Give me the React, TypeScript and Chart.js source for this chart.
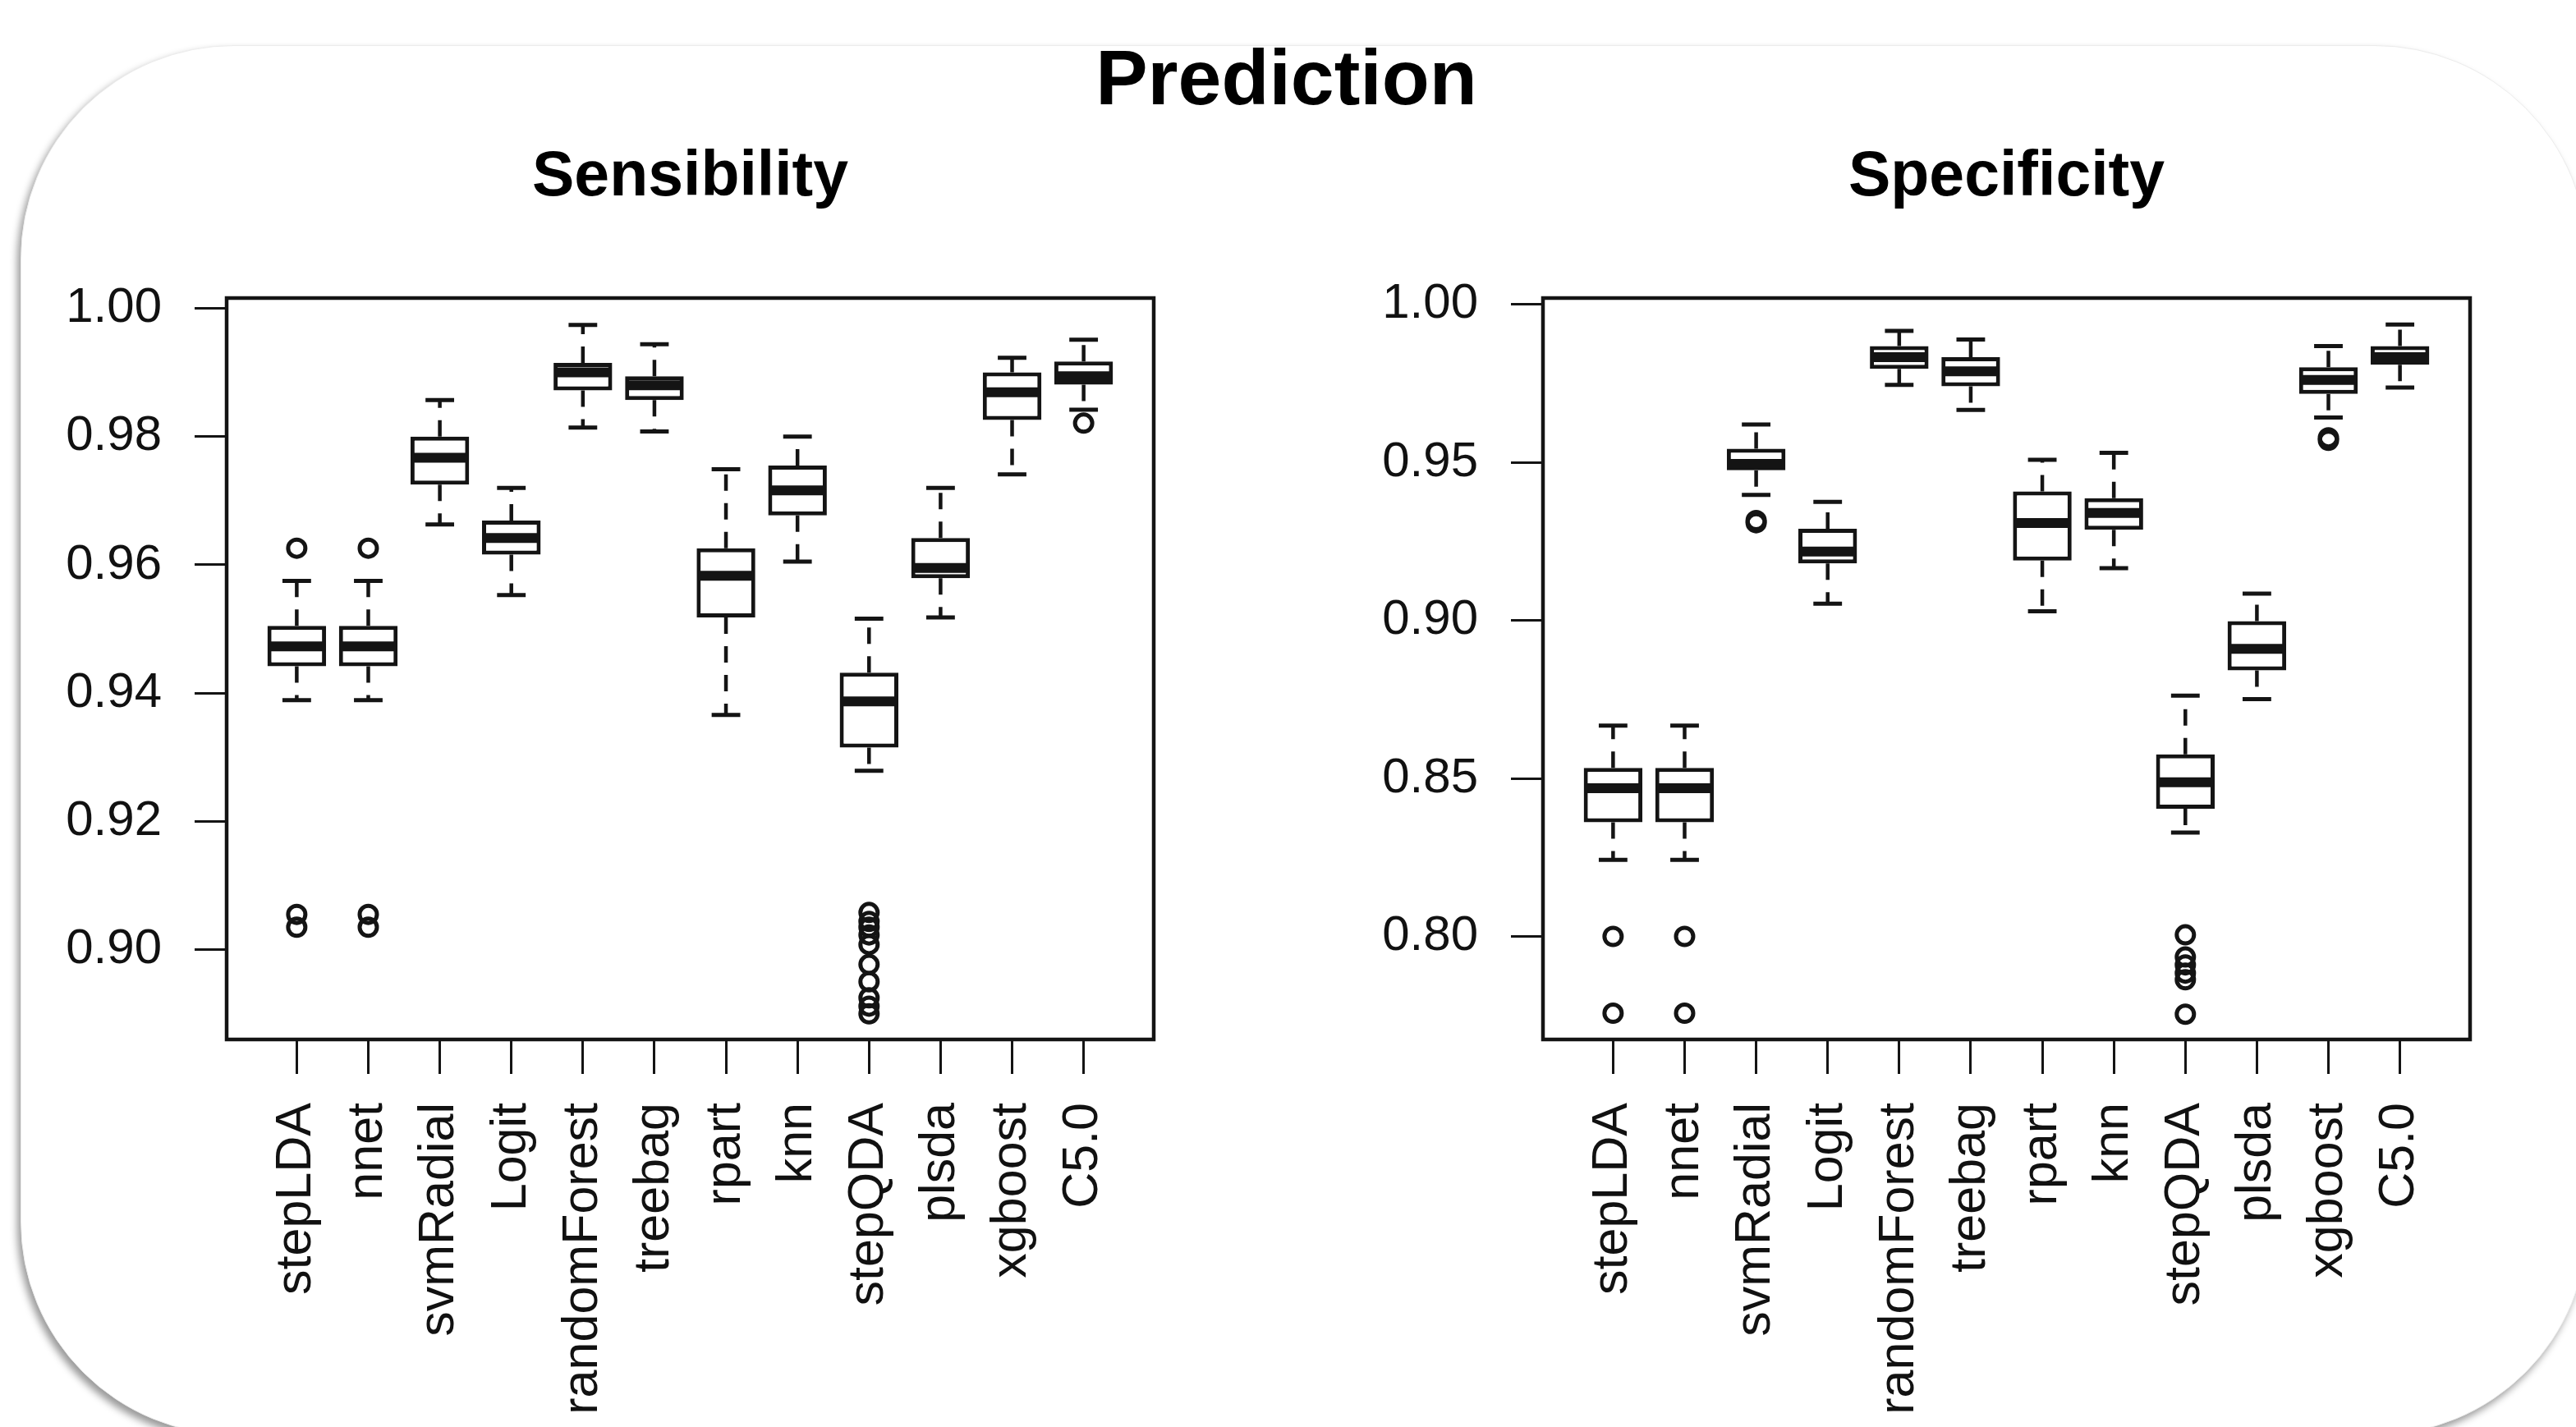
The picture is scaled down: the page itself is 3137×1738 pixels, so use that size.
import React, { useEffect, useRef } from "react";
import { Chart, registerables } from "chart.js";

Chart.register(...registerables);

// ---------------- data ----------------
const categories = [
  "stepLDA", "nnet", "svmRadial", "Logit", "randomForest", "treebag",
  "rpart", "knn", "stepQDA", "plsda", "xgboost", "C5.0",
];

// Sensibility panel
const sensLow = [0.9389, 0.9389, 0.9663, 0.9553, 0.9814, 0.9808, 0.9366, 0.9605, 0.9279, 0.9518, 0.9741, 0.9842];
const sensQ1 = [0.9442, 0.9442, 0.9725, 0.9616, 0.9872, 0.9857, 0.9518, 0.9677, 0.9315, 0.9579, 0.9826, 0.9881];
const sensMedian = [0.9473, 0.9473, 0.9767, 0.9642, 0.9900, 0.9880, 0.9583, 0.9716, 0.9387, 0.9595, 0.9869, 0.9894];
const sensQ3 = [0.9505, 0.9505, 0.9800, 0.9669, 0.9915, 0.9894, 0.9626, 0.9755, 0.9432, 0.9642, 0.9900, 0.9917];
const sensHigh = [0.9575, 0.9575, 0.9857, 0.9720, 0.9974, 0.9944, 0.9749, 0.9800, 0.9516, 0.9720, 0.9923, 0.9951];
const sensOutliers = [
  [0.9626, 0.9055, 0.9035],
  [0.9626, 0.9055, 0.9035],
  [], [], [], [], [], [],
  [0.9058, 0.9044, 0.9035, 0.9023, 0.9008, 0.8977, 0.895, 0.8925, 0.8912, 0.89],
  [], [],
  [0.9821],
];
const sensTicks = [0.9, 0.92, 0.94, 0.96, 0.98, 1.0];
const sensRange = [0.886, 1.0016];

// Specificity panel
const specLow = [0.8242, 0.8242, 0.9397, 0.9053, 0.9745, 0.9666, 0.9029, 0.9165, 0.8329, 0.8751, 0.9642, 0.9737];
const specQ1 = [0.8361, 0.8361, 0.9475, 0.918, 0.9796, 0.9741, 0.9189, 0.9287, 0.8404, 0.8842, 0.9717, 0.9809];
const specMedian = [0.8469, 0.8469, 0.9495, 0.9218, 0.9833, 0.9788, 0.9308, 0.934, 0.8488, 0.891, 0.9761, 0.9833];
const specQ3 = [0.8533, 0.8533, 0.9543, 0.929, 0.9868, 0.9833, 0.9408, 0.9387, 0.8576, 0.8998, 0.9801, 0.9868];
const specHigh = [0.8667, 0.8667, 0.962, 0.9375, 0.9916, 0.9889, 0.9508, 0.953, 0.8762, 0.9085, 0.9868, 0.9936];
const specOutliers = [
  [0.8, 0.7757],
  [0.8, 0.7757],
  [0.9309, 0.9316],
  [], [], [], [], [],
  [0.8005, 0.7935, 0.791, 0.7884, 0.7863, 0.7754],
  [],
  [0.957, 0.9578],
  [],
];
const specTicks = [0.8, 0.85, 0.9, 0.95, 1.0];
const specRange = [0.7674, 1.002];

const mainTitle = "Prediction";
const sensTitle = "Sensibility";
const specTitle = "Specificity";

// ---------------- styling ----------------
const FONT = '"Liberation Sans", Arial, Helvetica, sans-serif';
const INK = "#141414";

type Panel = {
  title: string;
  low: number[];
  q1: number[];
  med: number[];
  q3: number[];
  high: number[];
  outliers: number[][];
  ticks: number[];
  range: number[];
  yWidth: number;
  padRight: number;
};

const boxPlugin = {
  id: "boxWhiskers",
  afterDatasetsDraw(chart: any) {
    const p: Panel = chart.options.plugins.boxWhiskers.panel;
    const xs = chart.scales.x;
    const ys = chart.scales.y;
    const ctx = chart.ctx;
    ctx.save();
    ctx.strokeStyle = INK;
    ctx.lineCap = "butt";
    categories.forEach((_, i) => {
      const c = i + 1;
      const xc = xs.getPixelForValue(c);
      // whiskers (dashed)
      ctx.lineWidth = 4.5;
      ctx.setLineDash([20, 15]);
      ctx.beginPath();
      ctx.moveTo(xc, ys.getPixelForValue(p.q3[i]));
      ctx.lineTo(xc, ys.getPixelForValue(p.high[i]));
      ctx.moveTo(xc, ys.getPixelForValue(p.q1[i]));
      ctx.lineTo(xc, ys.getPixelForValue(p.low[i]));
      ctx.stroke();
      ctx.setLineDash([]);
      // caps
      const cl = xs.getPixelForValue(c - 0.2);
      const cr = xs.getPixelForValue(c + 0.2);
      ctx.lineWidth = 5;
      ctx.beginPath();
      ctx.moveTo(cl, ys.getPixelForValue(p.high[i]));
      ctx.lineTo(cr, ys.getPixelForValue(p.high[i]));
      ctx.moveTo(cl, ys.getPixelForValue(p.low[i]));
      ctx.lineTo(cr, ys.getPixelForValue(p.low[i]));
      ctx.stroke();
      // median
      ctx.lineWidth = 12;
      ctx.beginPath();
      ctx.moveTo(xs.getPixelForValue(c - 0.4), ys.getPixelForValue(p.med[i]));
      ctx.lineTo(xs.getPixelForValue(c + 0.4), ys.getPixelForValue(p.med[i]));
      ctx.stroke();
    });
    ctx.restore();
  },
  afterDraw(chart: any) {
    const p: Panel = chart.options.plugins.boxWhiskers.panel;
    const a = chart.chartArea;
    const ctx = chart.ctx;
    ctx.save();
    ctx.strokeStyle = INK;
    ctx.lineWidth = 4.5;
    ctx.strokeRect(a.left, a.top, a.right - a.left, a.bottom - a.top);
    ctx.fillStyle = "#000";
    ctx.font = `bold 77px ${FONT}`;
    ctx.textAlign = "center";
    ctx.textBaseline = "alphabetic";
    ctx.fillText(p.title, (a.left + a.right) / 2, 238);
    ctx.restore();
  },
};

function makeConfig(p: Panel): any {
  const boxData = categories.map((_, i) => ({ x: i + 1, y: [p.q1[i], p.q3[i]] }));
  const outData: { x: number; y: number }[] = [];
  p.outliers.forEach((arr, i) => arr.forEach((v) => outData.push({ x: i + 1, y: v })));
  return {
    type: "bar",
    data: {
      datasets: [
        {
          type: "bar",
          data: boxData,
          backgroundColor: "#ffffff",
          borderColor: INK,
          borderWidth: 5,
          borderSkipped: false,
          categoryPercentage: 1,
          barPercentage: 0.82,
          order: 2,
        },
        {
          type: "scatter",
          data: outData,
          pointStyle: "circle",
          pointRadius: 10.5,
          pointBorderWidth: 5,
          pointBackgroundColor: "rgba(0,0,0,0)",
          pointBorderColor: INK,
          order: 1,
        },
      ],
    },
    options: {
      responsive: false,
      animation: false,
      events: [],
      layout: { padding: { top: 363, right: p.padRight, bottom: 0, left: 0 } },
      plugins: {
        legend: { display: false },
        tooltip: { enabled: false },
        title: { display: false },
        boxWhiskers: { panel: p },
      },
      scales: {
        x: {
          type: "linear",
          position: "bottom",
          offset: false,
          min: 0.02,
          max: categories.length + 0.98,
          afterBuildTicks: (s: any) => {
            s.ticks = categories.map((_, i) => ({ value: i + 1 }));
          },
          afterFit: (s: any) => {
            s.height = 472;
          },
          ticks: {
            autoSkip: false,
            maxRotation: 90,
            minRotation: 90,
            padding: 35,
            color: "#111",
            font: { family: FONT, size: 61 },
            callback: (v: number) => categories[Math.round(v) - 1] ?? "",
          },
          grid: {
            display: true,
            offset: false,
            drawOnChartArea: false,
            drawTicks: true,
            tickLength: 42,
            tickWidth: 3,
            tickColor: INK,
          },
          border: { display: false },
        },
        y: {
          type: "linear",
          min: p.range[0],
          max: p.range[1],
          afterBuildTicks: (s: any) => {
            s.ticks = p.ticks.map((v) => ({ value: v }));
          },
          afterFit: (s: any) => {
            s.width = p.yWidth;
          },
          ticks: {
            padding: 40,
            color: "#111",
            font: { family: FONT, size: 60 },
            callback: (v: number) => Number(v).toFixed(2),
          },
          grid: {
            display: true,
            drawOnChartArea: false,
            drawTicks: true,
            tickLength: 39,
            tickWidth: 3,
            tickColor: INK,
          },
          border: { display: false },
        },
      },
    },
    plugins: [boxPlugin],
  };
}

export default function App() {
  const leftRef = useRef<HTMLCanvasElement | null>(null);
  const rightRef = useRef<HTMLCanvasElement | null>(null);

  useEffect(() => {
    const left: Panel = {
      title: sensTitle,
      low: sensLow,
      q1: sensQ1,
      med: sensMedian,
      q3: sensQ3,
      high: sensHigh,
      outliers: sensOutliers,
      ticks: sensTicks,
      range: sensRange,
      yWidth: 276,
      padRight: 1568 - 1405,
    };
    const right: Panel = {
      title: specTitle,
      low: specLow,
      q1: specQ1,
      med: specMedian,
      q3: specQ3,
      high: specHigh,
      outliers: specOutliers,
      ticks: specTicks,
      range: specRange,
      yWidth: 1879 - 1568,
      padRight: 3137 - 3008,
    };
    const c1 = new Chart(leftRef.current as HTMLCanvasElement, makeConfig(left));
    const c2 = new Chart(rightRef.current as HTMLCanvasElement, makeConfig(right));
    return () => {
      c1.destroy();
      c2.destroy();
    };
  }, []);

  return (
    <div
      style={{
        position: "fixed",
        left: 0,
        top: 0,
        width: 3137,
        height: 1738,
        overflow: "hidden",
        background: "#ffffff",
      }}
    >
      <div
        style={{
          position: "absolute",
          left: 25,
          top: 55,
          width: 3125,
          height: 1691,
          borderRadius: 260,
          background: "#ffffff",
          border: "1px solid #ececec",
          boxShadow: "-4px 6px 10px rgba(0,0,0,0.4)",
        }}
      />
      <div
        style={{
          position: "absolute",
          left: 0,
          top: 47,
          width: 3133,
          textAlign: "center",
          fontFamily: FONT,
          fontWeight: "bold",
          fontSize: 95,
          lineHeight: "95px",
          color: "#000",
        }}
      >
        {mainTitle}
      </div>
      <canvas
        ref={leftRef}
        width={1568}
        height={1738}
        style={{ position: "absolute", left: 0, top: 0, width: 1568, height: 1738 }}
      />
      <canvas
        ref={rightRef}
        width={1569}
        height={1738}
        style={{ position: "absolute", left: 1568, top: 0, width: 1569, height: 1738 }}
      />
    </div>
  );
}
